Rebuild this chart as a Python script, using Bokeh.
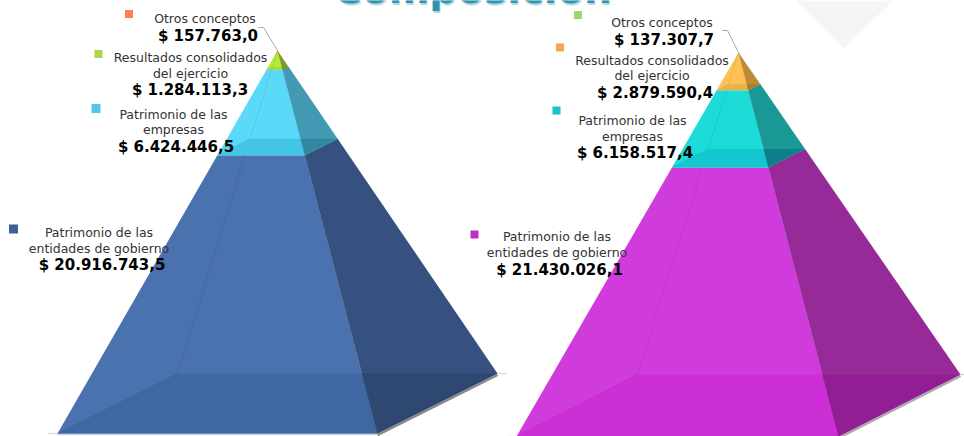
from bokeh.plotting import figure
from bokeh.models import Range1d
from bokeh.core.properties import value
from bokeh.embed import file_html
from bokeh.resources import INLINE

title_text = "Composición"
categories = ["Otros conceptos", "Resultados consolidados\ndel ejercicio",
              "Patrimonio de las\nempresas", "Patrimonio de las\nentidades de gobierno"]
values_left = [157763.0, 1284113.3, 6424446.5, 20916743.5]
values_right = [137307.7, 2879590.4, 6158517.4, 21430026.1]

# colours per segment: marker, front, side, floor, floor under side
colors_left = [
    ("#FF7F50", "#FF7F50", "#C8603C", "#F07448", "#B85838"),
    ("#A8D848", "#B4E83C", "#7E9E2C", "#A5D83A", "#6F8E26"),
    ("#4EC8E8", "#5BD9F8", "#4299B3", "#43C6E5", "#33889F"),
    ("#3B629B", "#4A72AE", "#365180", "#3F68A3", "#2E4872"),
]
colors_right = [
    ("#A0D468", "#A0D468", "#78A04E", "#96CA5E", "#6E9446"),
    ("#F5A94A", "#FFC055", "#BF8A36", "#E8B24A", "#A87D2E"),
    ("#18C4C4", "#1DDCD8", "#1A9896", "#14C6CE", "#0F7F8A"),
    ("#C030C8", "#D03CDC", "#962A98", "#CC2FD6", "#921E96"),
]

# layout: apex, front-left, front-right, back-right, back-left
shape_left = dict(a=(277, 50), fl=(57, 433), fr=(377, 433), br=(497, 373), bl=(177, 373))
shape_right = dict(a=(738, 52), fl=(516, 436), fr=(838, 436), br=(960, 374), bl=(637, 374))
markers_left = [(128.5, 13.5, 8), (98, 53.5, 8), (95.5, 108, 9), (13, 228.5, 9)]
markers_right = [(577.5, 14.5, 8), (559.5, 47, 8), (556, 110, 8), (474, 234, 8)]
# (x centre of text lines, y of lines..., x of value, y of value)
labels_left = [(204.5, [18], 207.5, 35), (190, [57, 73], 189.5, 89),
               (173, [114, 129], 175.5, 146), (98.5, [232, 248], 101.5, 264)]
labels_right = [(661.5, [22], 663.5, 39), (651.5, [60, 75], 654.5, 92),
                (632, [120, 136], 634.5, 152), (556.5, [236, 252], 559, 269)]
leader_left = ([277, 263, 258], [50, 27, 27])
leader_right = ([738, 727, 722], [52, 30, 30])


def money(v):
    s = f"{v:,.1f}".replace(",", "#").replace(".", ",").replace("#", ".")
    return "$ " + s


p = figure(width=964, height=436, output_backend="svg", toolbar_location=None,
           x_range=Range1d(0, 964), y_range=Range1d(436, 0),
           min_border=0, outline_line_color=None)
p.axis.visible = False
p.grid.visible = False

# watermark
p.patch([795, 893, 843], [0, 0, 48], color="#F5F5F5", line_color=None)

# title, mostly above the frame
for dx, dy, col, al in [(1, 1.5, "#9CC4D4", 0.7), (0, 0, "#2E94B0", 1)]:
    p.text([472 + dx], [-11 + dy], text=[title_text], text_font=value("DejaVu Sans"),
           text_font_style="bold", text_font_size="39px", text_align="center",
           text_baseline="alphabetic", text_color=col, text_alpha=al)


def pyramid(vals, cols, s, marks, labs, leader, shadow_alpha):
    ax, ay = s["a"]
    def at(corner, t):
        cx, cy = s[corner]
        return ax + (cx - ax) * t, ay + (cy - ay) * t

    total = sum(vals)
    cum = [0.0]
    for v in vals:
        cum.append(cum[-1] + v / total)

    # shadow
    fr, br, fl = s["fr"], s["br"], s["fl"]
    p.line([fr[0], br[0]], [fr[1] + 1.5, br[1] + 1.5], line_color="#555555",
           line_width=2.5, line_alpha=shadow_alpha)
    p.line([br[0], br[0] + 9], [br[1], br[1]], line_color="#999999", line_width=1.5, line_alpha=0.35)
    p.line([fl[0] - 9, fl[0]], [fl[1], fl[1]], line_color="#999999", line_width=1.5, line_alpha=0.35)
    p.line([fl[0], fr[0]], [fl[1] + 1, fr[1] + 1], line_color="#BBBBBB", line_width=1.5, line_alpha=0.6)

    for i in reversed(range(len(vals))):
        tt, tb = cum[i], cum[i + 1]
        _, front, side, floor, floor_side = cols[i]
        fl_t, fr_t, br_t = at("fl", tt), at("fr", tt), at("br", tt)
        fl_b, fr_b, br_b, bl_b = at("fl", tb), at("fr", tb), at("br", tb), at("bl", tb)
        bl_t = at("bl", tt)
        # front and side
        p.patch([fl_b[0], fr_b[0], fr_t[0], fl_t[0]], [fl_b[1], fr_b[1], fr_t[1], fl_t[1]],
                color=front, line_color=None)
        p.patch([fr_b[0], br_b[0], br_t[0], fr_t[0]], [fr_b[1], br_b[1], br_t[1], fr_t[1]],
                color=side, line_color=None)
        # floor seen through the segment
        yb = bl_b[1]
        mx = ax + (s["fr"][0] - ax) * (yb - ay) / (s["fr"][1] - ay)
        p.patch([fl_b[0], fr_b[0], mx, bl_b[0]], [fl_b[1], fr_b[1], yb, yb],
                color=floor, line_color=None)
        p.patch([fr_b[0], br_b[0], mx], [fr_b[1], yb, yb], color=floor_side, line_color=None)
        # hidden back edge and ridge
        p.line([bl_b[0], bl_t[0]], [bl_b[1], bl_t[1]], line_color=floor_side, line_alpha=0.2, line_width=1)
        p.line([fr_b[0], fr_t[0]], [fr_b[1], fr_t[1]], line_color=floor_side, line_alpha=0.25, line_width=1)
        p.line([fl_b[0], bl_b[0]], [fl_b[1], bl_b[1]], line_color=floor_side, line_alpha=0.15, line_width=1)

    p.line(leader[0], leader[1], line_color="#AAAAAA", line_width=1)

    for (mx, my, size), col in zip(marks, cols):
        p.rect([mx], [my], width=size, height=size, color=col[0], line_color=None)

    for lab, cat, v in zip(labs, categories, vals):
        xc, ys, xv, yv = lab
        for line, y in zip(cat.split("\n"), ys):
            p.text([xc], [y], text=[line], text_font=value("DejaVu Sans"), text_font_size="12.5px",
                   text_align="center", text_baseline="middle", text_color="#333333")
        p.text([xv], [yv], text=[money(v)], text_font=value("DejaVu Sans"), text_font_style="bold",
               text_font_size="15px", text_align="center", text_baseline="middle", text_color="#000000")


pyramid(values_left, colors_left, shape_left, markers_left, labels_left, leader_left, 0.7)
pyramid(values_right, colors_right, shape_right, markers_right, labels_right, leader_right, 0.5)

open("out.html", "w").write(file_html(p, INLINE))
